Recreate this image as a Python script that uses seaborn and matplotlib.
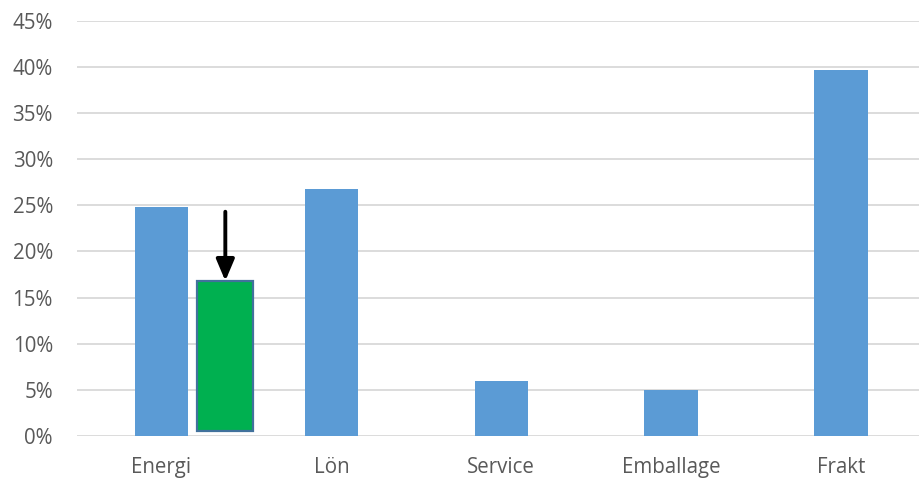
import numpy as np
import pandas as pd
import seaborn as sns
import matplotlib.pyplot as plt
from matplotlib.ticker import PercentFormatter, MultipleLocator

categories = ["Energi", "Lön", "Service", "Emballage", "Frakt"]
shares = [0.248, 0.268, 0.060, 0.050, 0.397]

# separate green bar next to Energi (bottom, top) and arrow start
green_low = 0.0054
green_high = 0.168
arrow_from = 0.243

sns.set_style("white")
plt.rcParams['font.family'] = ['Open Sans', 'DejaVu Sans']

fig = plt.figure(figsize=(9.2, 4.79), dpi=100)
ax = fig.add_axes([76.5 / 920, 1 - 436 / 479, 1 - 76.5 / 920, (436 - 20.7) / 479])

df = pd.DataFrame({"kategori": categories, "andel": shares})
sns.barplot(data=df, x="kategori", y="andel", color="#5B9BD5", saturation=1,
            width=0.314, linewidth=0, ax=ax, zorder=3)

green_x = 0.376
ax.bar(green_x, green_high - green_low, bottom=green_low, width=0.33,
       color="#00B050", edgecolor="#41719C", linewidth=1.6, zorder=4)
ax.annotate("", xy=(green_x, green_high), xytext=(green_x, arrow_from),
            arrowprops=dict(arrowstyle="-|>,head_width=0.55,head_length=1.3",
                            color="black", lw=2.8, shrinkA=0, shrinkB=0),
            zorder=5)

ax.set_ylim(0, 0.45)
ax.set_xlim(-0.5, 4.465)
ax.yaxis.set_major_locator(MultipleLocator(0.05))
ax.yaxis.set_major_formatter(PercentFormatter(1.0, decimals=0))
ax.grid(axis="y", color="#D9D9D9", linewidth=1.3, zorder=0)
ax.set_axisbelow(True)
for s in ax.spines.values():
    s.set_visible(False)
ax.set_xlabel("")
ax.set_ylabel("")
ax.tick_params(axis="both", length=0, labelsize=14.8, labelcolor="#595959")
ax.tick_params(axis="y", pad=17)
ax.tick_params(axis="x", pad=15)

fig.savefig("out.png", dpi=100)
